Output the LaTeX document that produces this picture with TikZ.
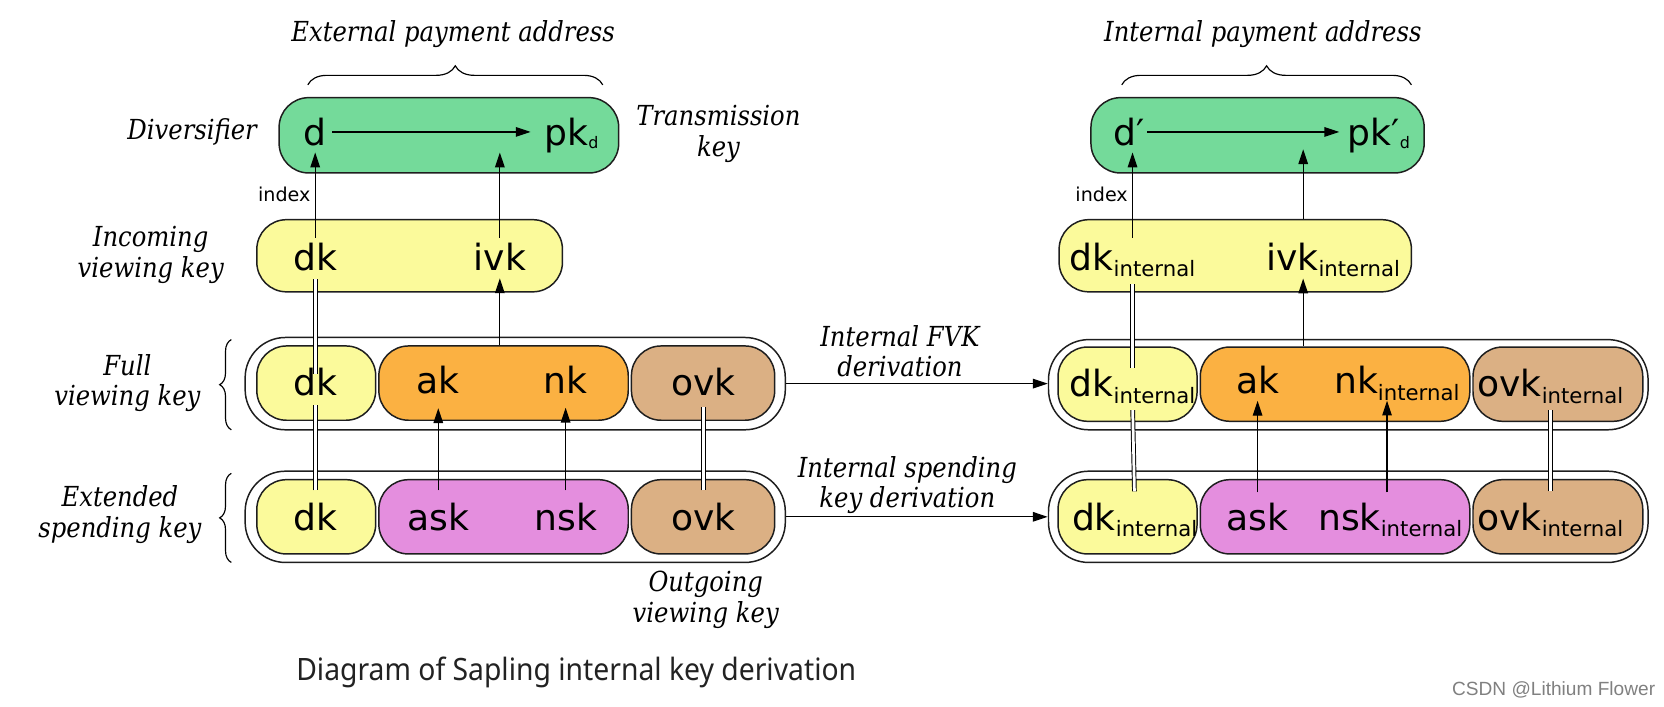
\documentclass[tikz,border=0pt]{standalone}
\usepackage{fontspec}
\setmainfont{DejaVu Sans}
\newfontfamily\keyfont{DejaVu Sans}
\newfontfamily\labfont[FakeStretch=0.88]{DejaVu Serif}
\newfontfamily\capfont[FakeStretch=0.92]{Noto Sans}
\newfontfamily\wmfont{Liberation Sans}
\usetikzlibrary{arrows.meta,decorations.pathreplacing}
\definecolor{cgreen}{RGB}{116,218,154}
\definecolor{cyellow}{RGB}{251,250,155}
\definecolor{corange}{RGB}{251,177,66}
\definecolor{ctan}{RGB}{219,176,132}
\definecolor{cpink}{RGB}{228,142,222}
\definecolor{cline}{RGB}{30,30,30}
\definecolor{ccap}{RGB}{34,34,34}
\newcommand\subsc[1]{\raisebox{-6pt}{\fontsize{20}{24}\selectfont #1}}
\newcommand\subd{\raisebox{-3pt}{\fontsize{15}{18}\selectfont d}}
\begin{document}
\begin{tikzpicture}[x=1pt,y=-1pt,
  box/.style={draw=cline, line width=1.4pt, rounded corners=28pt, inner sep=0pt},
  outer/.style={draw=cline, fill=white, line width=1.4pt, rounded corners=38pt, inner sep=0pt},
  key/.style={font=\keyfont\fontsize{34}{40}\selectfont, inner sep=0pt, anchor=base},
  keyw/.style={key, anchor=base west},
  lab/.style={font=\labfont\itshape\fontsize{26}{29}\selectfont, align=center, inner sep=0pt},
  idx/.style={font=\keyfont\fontsize{18}{20}\selectfont, inner sep=0pt},
  arr/.style={draw=black, line width=1.1pt, -{Triangle[length=14pt,width=9pt]}},
  dbl/.style={draw=black, double=white, double distance=2.6pt, line width=0.9pt},
  brc/.style={draw=black, line width=1.1pt, decorate, decoration={brace, amplitude=#1}},
]
\useasboundingbox (0,0) rectangle (1568,666);

% ---------- left column ----------
\node[box, fill=cgreen, minimum width=320pt, minimum height=71pt] (gL) at (423,127.5) {};
\node[key] (dL) at (297,137) {d};
\node[keyw] (pkL) at (513,137) {pk\subd};

\node[box, fill=cyellow, minimum width=288pt, minimum height=68pt] (ivkL) at (386,241) {};
\node[key] (ivkLdk) at (297,255) {dk};
\node[key] (ivkLivk) at (471,255) {ivk};

\node[outer, minimum width=509pt, minimum height=87pt] (fvkL) at (485.5,361.5) {};
\node[box, fill=cyellow, minimum width=112pt, minimum height=70pt] (fvkLdkb) at (298,361) {};
\node[box, fill=corange, minimum width=235pt, minimum height=70pt] (fvkLakb) at (474.5,361) {};
\node[box, fill=ctan, minimum width=135pt, minimum height=70pt] (fvkLovkb) at (662.5,361) {};
\node[key] (fvkLdk) at (297,373) {dk};
\node[key] (fvkLak) at (413,371) {ak};
\node[key] (fvkLnk) at (533,371) {nk};
\node[key] (fvkLovk) at (663,373) {ovk};

\node[outer, minimum width=509pt, minimum height=86pt] (eskL) at (485.5,487) {};
\node[box, fill=cyellow, minimum width=112pt, minimum height=70pt] (eskLdkb) at (298,487) {};
\node[box, fill=cpink, minimum width=235pt, minimum height=70pt] (eskLaskb) at (474.5,487) {};
\node[box, fill=ctan, minimum width=135pt, minimum height=70pt] (eskLovkb) at (662.5,487) {};
\node[key] (eskLdk) at (297,500) {dk};
\node[key] (eskLask) at (413,500) {ask};
\node[key] (eskLnsk) at (533,500) {nsk};
\node[key] (eskLovk) at (663,500) {ovk};

% ---------- right column ----------
\node[box, fill=cgreen, minimum width=314pt, minimum height=71pt] (gR) at (1185,127.5) {};
\node[key] (dR) at (1064,137) {d′};
\node[keyw] (pkR) at (1270,137) {pk′\subd};

\node[box, fill=cyellow, minimum width=332pt, minimum height=68pt] (ivkR) at (1164,241) {};
\node[keyw] (ivkRdk) at (1008,255) {dk\subsc{internal}};
\node[keyw] (ivkRivk) at (1193,255) {ivk\subsc{internal}};

\node[outer, minimum width=565pt, minimum height=85pt] (fvkR) at (1270.5,362.5) {};
\node[box, fill=cyellow, minimum width=131pt, minimum height=70pt] (fvkRdkb) at (1062.5,362) {};
\node[box, fill=corange, minimum width=254pt, minimum height=70pt] (fvkRakb) at (1258,362) {};
\node[box, fill=ctan, minimum width=160pt, minimum height=70pt] (fvkRovkb) at (1468,362) {};
\node[keyw] (fvkRdk) at (1008,374) {dk\subsc{internal}};
\node[key] (fvkRak) at (1185,371) {ak};
\node[keyw] (fvkRnk) at (1257,371) {nk\subsc{internal}};
\node[keyw] (fvkRovk) at (1392,374) {ovk\subsc{internal}};

\node[outer, minimum width=565pt, minimum height=86pt] (eskR) at (1270.5,487) {};
\node[box, fill=cyellow, minimum width=131pt, minimum height=70pt] (eskRdkb) at (1062.5,487) {};
\node[box, fill=cpink, minimum width=254pt, minimum height=70pt] (eskRaskb) at (1258,487) {};
\node[box, fill=ctan, minimum width=160pt, minimum height=70pt] (eskRovkb) at (1468,487) {};
\node[keyw] (eskRdk) at (1010,500) {dk\subsc{internal}};
\node[key] (eskRask) at (1185,500) {ask};
\node[keyw] (eskRnsk) at (1242,500) {nsk\subsc{internal}};
\node[keyw] (eskRovk) at (1392,500) {ovk\subsc{internal}};

\coordinate (colivkR) at (1228,0);
\coordinate (colnkR) at (1307,0);

% ---------- labels ----------
\node[lab] (tExt) at (427,32) {External payment address};
\node[lab] (tInt) at (1190,32) {Internal payment address};
\node[lab] (lDiv) at (181,124) {Diversifier};
\node[lab] (lTrans) at (677,126) {Transmission\\key};
\node[lab] (lIVK) at (142,240) {Incoming\\viewing key};
\node[lab] (lFVK) at (120,361) {Full\\viewing key};
\node[lab] (lESK) at (113,485) {Extended\\spending key};
\node[lab] (lOVK) at (665,565) {Outgoing\\viewing key};
\node[lab] (lIFVK) at (848,331) {Internal FVK\\derivation};
\node[lab] (lISK) at (855,457) {Internal spending\\key derivation};
\node[font=\capfont\fontsize{29}{33}\selectfont, text=ccap, inner sep=0pt] (cap) at (543,634) {Diagram of Sapling internal key derivation};
\node[font=\wmfont\fontsize{18}{20}\selectfont, text=gray, inner sep=0pt] (wm) at (1464,650) {CSDN @Lithium Flower};

% ---------- braces ----------
\draw[brc=18pt] (290,80) -- (568,80);
\draw[brc=18pt] (1057,80) -- (1330,80);
\draw[brc=11pt] (218,405) -- (218,320);
\draw[brc=11pt] (218,530) -- (218,446);

% ---------- left connectors ----------
\draw[arr, shorten <=5pt, shorten >=13pt] (dL.east) -- (dL.east -| pkL.west);
\draw[arr, shorten <=5pt, shorten >=6pt] (ivkLdk.north) -- (dL.south)
  node[idx, midway, left=4pt] (idxL) {index};
\draw[arr, shorten <=5pt, shorten >=6pt] (ivkLivk.north) -- (ivkLivk.north |- dL.south);
\draw[arr, shorten >=7pt] (ivkLivk |- fvkLakb.north) -- (ivkLivk.south);
\draw[dbl, shorten <=-5pt, shorten >=7pt] (fvkLdk.north) -- (ivkLdk.south);
\draw[dbl, shorten <=12pt, shorten >=8pt] (eskLdk.north) -- (fvkLdk.south);
\draw[arr, shorten <=12pt, shorten >=13pt] (eskLask.north) -- (fvkLak.south);
\draw[arr, shorten <=12pt, shorten >=13pt] (eskLnsk.north) -- (fvkLnk.south);
\draw[dbl, shorten <=12pt, shorten >=10pt] (eskLovk.north) -- (fvkLovk.south);

% ---------- derivation arrows ----------
\draw[arr] (fvkL.east) -- (fvkL.east -| fvkR.west);
\draw[arr] (eskL.east) -- (eskL.east -| eskR.west);

% ---------- right connectors ----------
\draw[arr, shorten <=2pt, shorten >=8pt] (dR.east) -- (dR.east -| pkR.west);
\draw[arr, shorten <=5pt, shorten >=6pt] (ivkRdk.north) -- (ivkRdk.north |- dR.south)
  node[idx, midway, left=4pt] (idxR) {index};
\draw[arr, shorten >=3pt] (ivkR.north -| colivkR) -- (colivkR |- dR.south);
\draw[arr, shorten >=1pt] (fvkRakb.north -| colivkR) -- (ivkRivk.south -| colivkR);
\draw[dbl, shorten <=1pt, shorten >=6pt] (fvkRdk.north) -- (ivkRdk.south);
\draw[dbl, shorten <=11pt, shorten >=6pt] (eskRdk.north) -- (fvkRdk.south);
\draw[arr, shorten <=10pt, shorten >=6pt] (eskRask.north) -- (fvkRak.south);
\draw[arr, shorten <=10pt, shorten >=0pt] (eskRnsk.north -| colnkR) -- (fvkRnk.south -| colnkR);
\draw[dbl, shorten <=11pt, shorten >=6pt] (eskRovk.north) -- (fvkRovk.south);
\end{tikzpicture}
\end{document}
